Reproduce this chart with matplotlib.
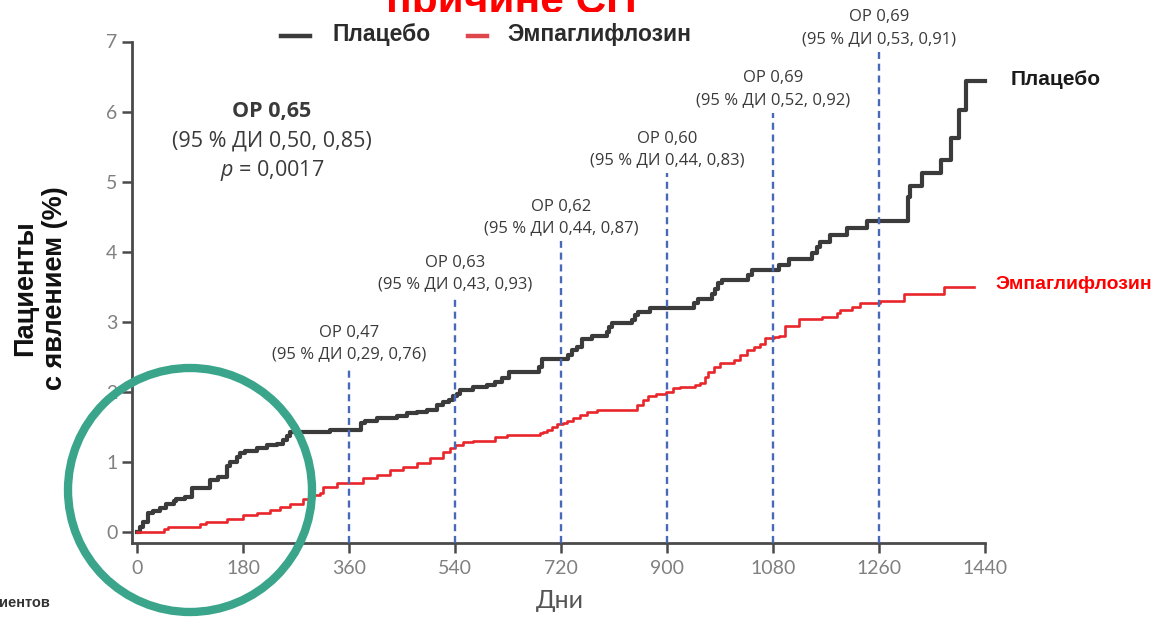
import matplotlib
matplotlib.use("Agg")
import matplotlib.pyplot as plt
from matplotlib.patches import Ellipse, Rectangle
from matplotlib.lines import Line2D
from matplotlib.transforms import offset_copy

# ---------------- data ----------------
placebo_days = [0, 5, 11, 19, 28, 39, 50, 62, 67, 82, 93, 124, 138, 152, 158, 169, 175, 183,
                203, 220, 237, 248, 254, 260, 328, 381, 387, 407, 441, 458, 475, 492, 509, 520,
                530, 537, 543, 549, 571, 594, 608, 619, 631, 682, 687, 732, 738, 747, 755, 772,
                798, 801, 806, 840, 846, 851, 871, 945, 953, 976, 982, 987, 993, 1038, 1044,
                1090, 1107, 1146, 1155, 1160, 1177, 1206, 1240, 1309, 1313, 1333, 1365, 1383,
                1395, 1408, 1440]
placebo_pct = [0.0, 0.07, 0.14, 0.26, 0.30, 0.33, 0.39, 0.43, 0.46, 0.50, 0.62, 0.74, 0.78, 0.93,
               1.00, 1.07, 1.12, 1.155, 1.19, 1.23, 1.25, 1.31, 1.36, 1.42, 1.45, 1.545, 1.58,
               1.62, 1.65, 1.69, 1.71, 1.74, 1.81, 1.855, 1.88, 1.93, 1.97, 2.02, 2.07, 2.10,
               2.14, 2.19, 2.28, 2.35, 2.47, 2.52, 2.59, 2.64, 2.745, 2.79, 2.855, 2.92, 2.98,
               3.02, 3.09, 3.14, 3.19, 3.26, 3.32, 3.40, 3.47, 3.545, 3.59, 3.66, 3.74, 3.81,
               3.89, 3.98, 4.07, 4.14, 4.24, 4.33, 4.43, 4.78, 4.93, 5.12, 5.31, 5.62, 6.02,
               6.43, 6.43]

empa_days = [0, 45, 53, 107, 118, 152, 180, 203, 226, 243, 260, 282, 294, 311, 316, 339, 384,
             407, 430, 452, 475, 498, 520, 531, 540, 554, 571, 608, 628, 684, 690, 696, 704,
             713, 724, 730, 741, 752, 764, 781, 849, 860, 868, 882, 899, 911, 922, 948, 956,
             965, 970, 979, 990, 1013, 1024, 1035, 1047, 1058, 1066, 1082, 1090, 1101, 1124,
             1163, 1189, 1194, 1214, 1228, 1261, 1302, 1370, 1421]
empa_pct = [0.0, 0.036, 0.069, 0.107, 0.14, 0.174, 0.236, 0.27, 0.307, 0.355, 0.40, 0.46, 0.52,
            0.545, 0.64, 0.69, 0.76, 0.81, 0.88, 0.92, 0.98, 1.045, 1.14, 1.19, 1.23, 1.28,
            1.30, 1.345, 1.38, 1.41, 1.42, 1.45, 1.50, 1.535, 1.555, 1.58, 1.615, 1.665, 1.71,
            1.735, 1.81, 1.88, 1.93, 1.965, 2.0, 2.045, 2.07, 2.09, 2.12, 2.21, 2.28, 2.355,
            2.41, 2.45, 2.52, 2.59, 2.64, 2.68, 2.76, 2.78, 2.80, 2.93, 3.03, 3.07, 3.12, 3.16,
            3.21, 3.26, 3.30, 3.40, 3.50, 3.50]

hr_days = [360, 540, 720, 900, 1080, 1260]
hr_values = ["0,47", "0,63", "0,62", "0,60", "0,69", "0,69"]
ci_low = ["0,29", "0,43", "0,44", "0,44", "0,52", "0,53"]
ci_high = ["0,76", "0,93", "0,87", "0,83", "0,92", "0,91"]

x_ticks = [0, 180, 360, 540, 720, 900, 1080, 1260, 1440]
y_ticks = [0, 1, 2, 3, 4, 5, 6, 7]

series_names = ["Плацебо", "Эмпаглифлозин"]
title_text = "причине СН"
y_label = "Пациенты\nс явлением (%)"
x_label = "Дни"
overall_lines = ["ОР 0,65", "(95 % ДИ 0,50, 0,85)", r"$\mathit{p}$ = 0,0017"]
corner_text = "иентов"

# ---------------- style ----------------
plt.rcParams["mathtext.fontset"] = "custom"
plt.rcParams["mathtext.it"] = "Open Sans:italic"
plt.rcParams["mathtext.rm"] = "Open Sans"

W, H = 1165, 620
fig = plt.figure(figsize=(W / 100, H / 100), dpi=100)
fig.patch.set_facecolor("white")


def fx(px):
    return px / W


def fy(py):
    return 1 - py / H


BOLD = ["Liberation Sans", "DejaVu Sans"]
ANN = ["Open Sans", "DejaVu Sans"]
TICKF = ["Lato", "DejaVu Sans"]

placebo_col = "#3b3b3b"
empa_col = "#e8262b"
dash_col = "#4868b8"
axis_col = "#4a4a4a"

ax = fig.add_axes([fx(132), fy(543), (985 - 132) / W, (543 - 41.5) / H])
ax.set_xlim(-8.5, 1440)
ax.set_ylim(-0.164, 7)

for s in ["top", "right"]:
    ax.spines[s].set_visible(False)
for s in ["left", "bottom"]:
    ax.spines[s].set_color(axis_col)
    ax.spines[s].set_linewidth(2.0)

ax.set_xticks(x_ticks)
ax.set_yticks(y_ticks)
ax.tick_params(axis="both", direction="out", length=7.5, width=1.8, color=axis_col,
               labelsize=14, labelcolor="#808080")
ax.tick_params(axis="x", pad=5)
ax.tick_params(axis="y", pad=3)
for lab in ax.get_xticklabels() + ax.get_yticklabels():
    lab.set_family(TICKF)

# curves
pl_line, = ax.step(placebo_days, placebo_pct, where="post", color=placebo_col, lw=3.0,
                   zorder=3, clip_on=False)
em_line, = ax.step(empa_days, empa_pct, where="post", color=empa_col, lw=1.9,
                   zorder=3, clip_on=False)

# dashed landmark lines with HR annotations
dash_tops = [2.35, 3.35, 4.15, 5.12, 5.98, 6.85]
for d, top, hr, lo, hi in zip(hr_days, dash_tops, hr_values, ci_low, ci_high):
    ax.plot([d, d], [ax.get_ylim()[0], top], color=dash_col, lw=1.7,
            linestyle=(0, (3, 2)), zorder=4, clip_on=False)
    ax.text(d, top + 0.34, f"ОР {hr}\n(95 % ДИ {lo}, {hi})", ha="center", va="center",
            fontsize=12, color="#3a3a3a", family=ANN, linespacing=1.45, clip_on=False,
            zorder=5)

# overall result block
ax.text(229, 6.0, overall_lines[0], ha="center", va="center", fontsize=15.5,
        fontweight="bold", color="#3a3a3a", family=ANN)
ax.text(229, 5.58, overall_lines[1], ha="center", va="center", fontsize=15.5,
        color="#3a3a3a", family=ANN)
ax.text(229, 5.16, overall_lines[2], ha="center", va="center", fontsize=15.5,
        color="#3a3a3a", family=ANN)

# end-of-line labels
ax.text(placebo_days[-1], placebo_pct[-1], series_names[0],
        transform=offset_copy(ax.transData, fig=fig, x=26, y=2, units="dots"),
        ha="left", va="center", fontsize=15, fontweight="bold", color="#1a1a1a",
        family=BOLD, clip_on=False)
ax.text(empa_days[-1], empa_pct[-1], series_names[1],
        transform=offset_copy(ax.transData, fig=fig, x=22, y=2, units="dots"),
        ha="left", va="center", fontsize=14, fontweight="bold", color="#ff0000",
        family=BOLD, clip_on=False)

# clipped title (lower part hidden by the chart's white background)
fig.text(fx(511), fy(13), title_text, ha="center", va="baseline", fontsize=30.5,
         fontweight="bold", color="#ff0000", family=BOLD, zorder=1)
fig.add_artist(Rectangle((fx(360), fy(27)), 300 / W, 15 / H, transform=fig.transFigure,
                         facecolor="white", edgecolor="none", zorder=2))

# legend (manual)
leg_y = fy(36)
fig.add_artist(Line2D([fx(281), fx(310)], [leg_y, leg_y], transform=fig.transFigure,
                      color=placebo_col, lw=3.2, zorder=5))
fig.text(fx(332), fy(35), series_names[0], ha="left", va="center", fontsize=16.5,
         fontweight="bold", color="#2b2b2b", family=BOLD, zorder=5)
fig.add_artist(Line2D([fx(468), fx(487)], [leg_y, leg_y], transform=fig.transFigure,
                      color="#e0474c", lw=3.2, zorder=5))
fig.text(fx(507), fy(35), series_names[1], ha="left", va="center", fontsize=16.5,
         fontweight="bold", color="#2b2b2b", family=BOLD, zorder=5)

# axis labels
fig.text(fx(40), fy(288), y_label, rotation=90, ha="center", va="center", fontsize=19.5,
         fontweight="bold", color="#111111", family=BOLD, linespacing=1.22)
fig.text(fx(560), fy(600), x_label, ha="center", va="center", fontsize=18,
         color="#555555", family=TICKF)

# corner text
fig.text(fx(-1), fy(603), corner_text, ha="left", va="center", fontsize=10.5,
         fontweight="bold", color="#333333", family=BOLD)

# green highlight circle
fig.add_artist(Ellipse((fx(190), fy(490)), width=244 / W, height=244 / H,
                       transform=fig.transFigure, fill=False, edgecolor="#3aa58a",
                       lw=6, zorder=10))

fig.savefig("out.png", dpi=100, facecolor="white")
